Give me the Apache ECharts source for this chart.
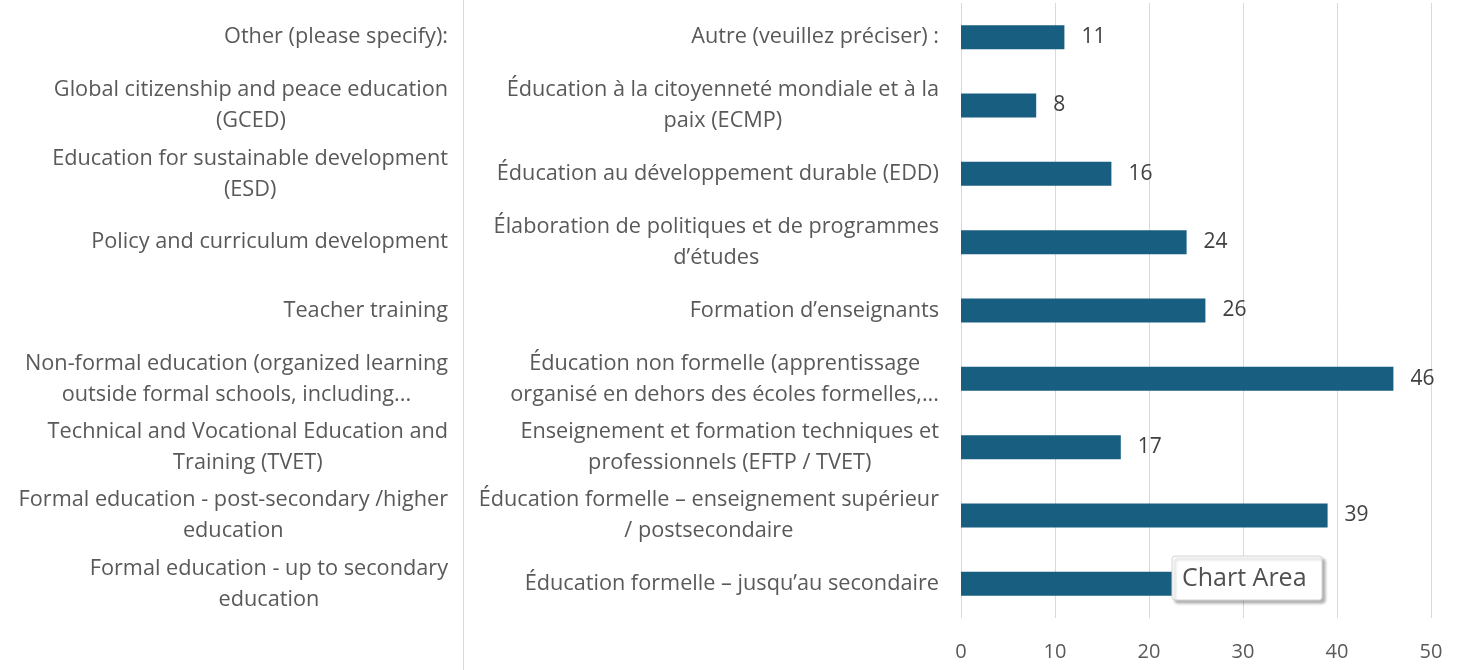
<!DOCTYPE html>
<html>
<head>
<meta charset="utf-8">
<script src="https://cdn.jsdelivr.net/npm/echarts@6/dist/echarts.min.js"></script>
<style>
    html, body { margin: 0; padding: 0; background: #fff; }
    #barChart { width: 1465px; height: 670px; }
</style>
</head>
<body>
<div id="barChart"></div>
<script>
// categories, top to bottom
var frLabels = [
    'Autre (veuillez préciser) :',
    'Éducation à la citoyenneté mondiale et à la\npaix (ECMP)',
    'Éducation au développement durable (EDD)',
    'Élaboration de politiques et de programmes\nd’études',
    'Formation d’enseignants',
    'Éducation non formelle (apprentissage\norganisé en dehors des écoles formelles,...',
    'Enseignement et formation techniques et\nprofessionnels (EFTP / TVET)',
    'Éducation formelle – enseignement supérieur\n/ postsecondaire',
    'Éducation formelle – jusqu’au secondaire'
];
var enLabels = [
    'Other (please specify):',
    'Global citizenship and peace education\n(GCED)',
    'Education for sustainable development\n(ESD)',
    'Policy and curriculum development',
    'Teacher training',
    'Non-formal education (organized learning\noutside formal schools, including...',
    'Technical and Vocational Education and\nTraining (TVET)',
    'Formal education - post-secondary /higher\neducation',
    'Formal education - up to secondary\neducation'
];
// last value is hidden under the tooltip box, estimated
var counts = [11, 8, 16, 24, 26, 46, 17, 39, 30];
var xTicks = [0, 10, 20, 30, 40, 50];

var FONT = '"Open Sans", sans-serif';

// lines centred inside a right-aligned block
function centred(value) {
    return value.split('\n').map(function (l) { return '{c|' + l + '}'; }).join('\n');
}

var barChart = echarts.init(document.getElementById('barChart'));
var option = {
    animation: false,
    textStyle: { fontFamily: FONT },
    grid: { left: 961, right: 34, top: 3, bottom: 52, containLabel: false },
    xAxis: {
        type: 'value',
        min: xTicks[0],
        max: xTicks[xTicks.length - 1],
        interval: 10,
        axisLine: { show: false },
        axisTick: { show: false },
        splitLine: { lineStyle: { color: '#d9d9d9', width: 1 } },
        axisLabel: { color: '#595959', fontSize: 20, fontFamily: FONT, margin: 24 }
    },
    yAxis: [{
        type: 'category',
        inverse: true,
        data: frLabels,
        axisLine: { show: false },
        axisTick: { show: false },
        axisLabel: {
            margin: 22,
            formatter: centred,
            rich: { c: { align: 'center', color: '#595959', fontSize: 21.7, lineHeight: 31, fontFamily: FONT } }
        }
    }, {
        type: 'category',
        inverse: true,
        position: 'left',
        offset: 498,
        data: enLabels,
        axisLine: { show: false },
        axisTick: { show: false },
        axisLabel: {
            margin: 15,
            formatter: centred,
            rich: { c: { align: 'center', color: '#595959', fontSize: 21.7, lineHeight: 31, fontFamily: FONT } }
        }
    }],
    series: [{
        type: 'bar',
        data: counts,
        barWidth: 24,
        z: 2,
        itemStyle: { color: '#185e81' },
        label: {
            show: true,
            position: 'right',
            distance: 17,
            color: '#404040',
            fontSize: 21,
            fontFamily: FONT
        }
    }],
    graphic: [
        // divider between the two label columns
        { type: 'line', shape: { x1: 463.5, y1: 0, x2: 463.5, y2: 670 }, style: { stroke: '#d9d9d9', lineWidth: 1 } },
        // "Chart Area" hover box
        { type: 'rect', z: 100, zlevel: 1, shape: { x: 1172, y: 556, width: 150, height: 44, r: 3 },
          style: { fill: '#fff', stroke: '#d4d4d4', lineWidth: 1, shadowColor: 'rgba(0,0,0,0.3)', shadowBlur: 3, shadowOffsetX: 3, shadowOffsetY: 3 } },
        { type: 'text', z: 101, zlevel: 1, x: 1182, y: 566, style: { text: 'Chart Area', fill: '#505050', fontSize: 25, fontFamily: FONT } }
    ]
};
barChart.setOption(option);

window.addEventListener('resize', function () {
    barChart.resize();
});
</script>
</body>
</html>
